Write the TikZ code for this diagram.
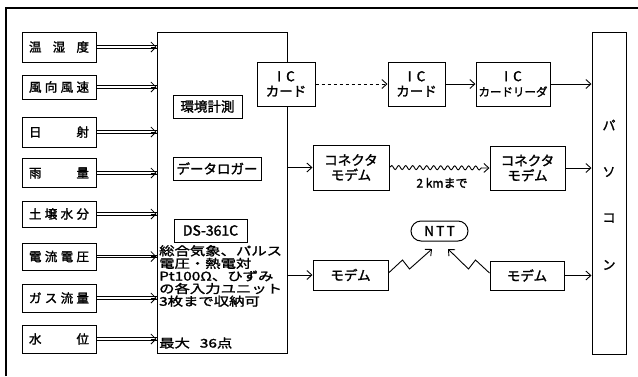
\documentclass[tikz,border=0pt]{standalone}
\usepackage{fontspec}
\setmainfont{Noto Sans CJK JP}[FakeBold=1.6]
\newfontfamily\jpw{Noto Sans CJK JP}[FakeStretch=1.28,FakeBold=1.6]
\usetikzlibrary{arrows.meta,decorations.pathmorphing,shapes.misc}
\tikzset{
  bx/.style={draw, line width=1pt, inner sep=0pt, fill=white, align=center, font=\fontsize{13.5}{15}\selectfont},
  inbox/.style={bx, minimum width=74pt, font=\fontsize{12.5}{14}\selectfont},
  sp/.style={draw=none, fill=none, inner sep=0pt},
  arr/.style={line width=0.9pt, -{Straight Barb[length=5pt,width=9pt]}},
  ln/.style={line width=0.8pt},
  tip/.style={line width=0.8pt, -{Straight Barb[length=5pt,width=10pt]}},
}
\newcommand{\spread}[1]{\makebox[60pt][s]{#1}}
\begin{document}
\begin{tikzpicture}[x=1pt,y=-1pt]
\useasboundingbox (0,0) rectangle (638,376);
% outer frame (partial)
\draw[line width=1.2pt] (6,376) -- (6,8) -- (638,8);

% input boxes
\node[inbox, minimum height=30pt] (i1) at (59,47) {\spread{温\hfill 湿\hfill 度}};
\node[inbox, minimum height=24pt] (i2) at (59,87) {\spread{風\hfill 向\hfill 風\hfill 速}};
\node[inbox, minimum height=30pt] (i3) at (59,132) {\spread{日\hfill 射}};
\node[inbox, minimum height=29pt] (i4) at (59,173) {\spread{雨\hfill 量}};
\node[inbox, minimum height=26pt] (i5) at (59,214) {\spread{土\hfill 壌\hfill 水\hfill 分}};
\node[inbox, minimum height=27pt] (i6) at (59,256.5) {\spread{電\hfill 流\hfill 電\hfill 圧}};
\node[inbox, minimum height=28pt] (i7) at (59,298) {\spread{ガ\hfill ス\hfill 流\hfill 量}};
\node[inbox, minimum height=28pt] (i8) at (59,339) {\spread{水\hfill 位}};

% main box
\node[draw, line width=1pt, minimum width=130pt, minimum height=321pt, inner sep=0pt] (main) at (222,192.5) {};
\foreach \i in {1,...,8} {
  \draw[ln] ([yshift=-1.3pt]i\i.east) -- ([yshift=-1.3pt]i\i.east -| main.west);
  \draw[ln] ([yshift=1.3pt]i\i.east) -- ([yshift=1.3pt]i\i.east -| main.west);
  \draw[tip] ([xshift=-6pt]i\i.east -| main.west) -- (i\i.east -| main.west);
}

\node[bx, minimum width=69pt, minimum height=23pt] (env) at (207.5,106.5) {環境計測};
\node[bx, minimum width=88pt, minimum height=23pt] (log) at (217,168.5) {データロガー};
\node[bx, minimum width=73pt, minimum height=23pt, font=\fontsize{14}{15}\selectfont] (ds) at (210.5,230.5) {DS-361C};
\node[sp, anchor=north west, align=left, font=\jpw\fontsize{12}{12.6}\selectfont] (spec) at (159,245)
  {総合気象、パルス\\電圧・熱電対\\Pt100Ω、ひずみ\\の各入力ユニット\\3枚まで収納可};
\node[sp, anchor=west, font=\jpw\fontsize{12}{12.6}\selectfont] (max) at (159,343) {最大\hspace{10pt}36点};

% IC row
\node[bx, minimum width=58pt, minimum height=44pt] (ic1) at (286,84) {I\hspace{5pt}C\\カード};
\node[bx, minimum width=57pt, minimum height=44pt] (ic2) at (416.5,84) {I\hspace{5pt}C\\カード};
\node[bx, minimum width=74pt, minimum height=44pt] (icr) at (513,84) {I\hspace{5pt}C\\{\fontsize{11.5}{13}\selectfont カードリーダ}};

% PC
\node[draw, line width=1pt, minimum width=34pt, minimum height=322pt, inner sep=0pt] (pc) at (609,193.5) {};
\node[sp, font=\fontsize{13}{14}\selectfont] (pc1) at (609,125) {パ};
\node[sp, font=\fontsize{13}{14}\selectfont] (pc2) at (609,172) {ソ};
\node[sp, font=\fontsize{13}{14}\selectfont] (pc3) at (609,218) {コ};
\node[sp, font=\fontsize{13}{14}\selectfont] (pc4) at (609,265) {ン};

% connector modems
\node[bx, minimum width=76pt, minimum height=45pt] (cm1) at (351,167.5) {コネクタ\\モデム};
\node[bx, minimum width=75pt, minimum height=44pt] (cm2) at (527.5,168) {コネクタ\\モデム};
% modems
\node[bx, minimum width=75pt, minimum height=30pt] (m1) at (350.5,275) {モデム};
\node[bx, minimum width=74pt, minimum height=29pt] (m2) at (527,275.5) {モデム};
\node[bx, rounded rectangle, minimum width=65pt, minimum height=20pt, inner xsep=4pt] (ntt) at (439.5,231) {N\,T\,T};

% connectors
\draw[arr, dashed] (ic1.east) -- (ic2.west);
\draw[arr] (ic2.east) -- (icr.west);
\draw[arr] (icr.east) -- (icr.east -| pc.west);
\draw[arr] (cm1.west -| main.east) -- (cm1.west);
\draw[arr, decorate, decoration={snake, amplitude=2pt, segment length=7pt, post length=6pt}] (cm1.east) -- (cm2.west);
\node[sp, font=\fontsize{12}{13}\selectfont] (km) at (442,183) {2 kmまで};
\draw[arr] (cm2.east) -- (cm2.east -| pc.west);
\draw[arr] (m1.west -| main.east) -- (m1.west);
\draw[arr] (m2.east) -- (m2.east -| pc.west);
\coordinate (z1) at (m1.east |- 0,273);
\coordinate (t1) at (432,249);
\coordinate (z2) at (m2.west |- 0,273);
\coordinate (t2) at (448,249);
\draw[arr] (z1) -- ++(14,-13) -- ++(7,9) -- (t1);
\draw[arr] (z2) -- ++(-14,-13) -- ++(-7,9) -- (t2);
\end{tikzpicture}
\end{document}
